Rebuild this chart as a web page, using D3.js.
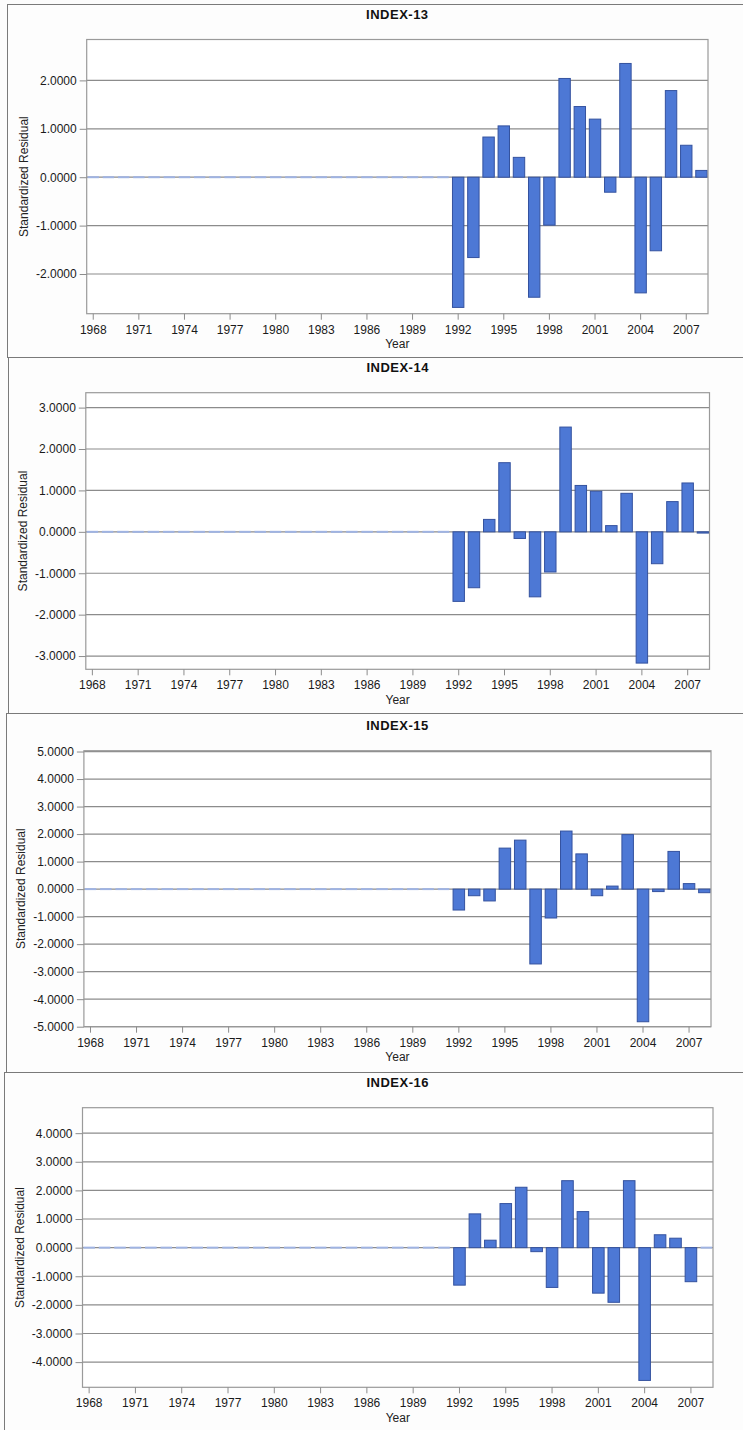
<!DOCTYPE html>
<html>
<head>
<meta charset="utf-8">
<script src="https://cdn.jsdelivr.net/npm/d3@7"></script>
<style>
  html, body { margin: 0; padding: 0; background: #fcfcfc; }
  svg { display: block; }
  text { font-family: "Liberation Sans", Arial, sans-serif; }
</style>
</head>
<body>
<svg id="chart" width="743" height="1430"></svg>
<script>
// Years on the category axis
const years = [1968, 1969, 1970, 1971, 1972, 1973, 1974, 1975, 1976, 1977,
               1978, 1979, 1980, 1981, 1982, 1983, 1984, 1985, 1986, 1987,
               1988, 1989, 1990, 1991, 1992, 1993, 1994, 1995, 1996, 1997,
               1998, 1999, 2000, 2001, 2002, 2003, 2004, 2005, 2006, 2007, 2008];

// Labelled years on the x axis
const xTickYears = [1968, 1971, 1974, 1977, 1980, 1983, 1986, 1989, 1992, 1995, 1998, 2001, 2004, 2007];

const titles = ["INDEX-13", "INDEX-14", "INDEX-15", "INDEX-16"];

// Standardized residuals per year (1968 ... 2008)
const index13 = [0, 0, 0, 0, 0, 0, 0, 0, 0, 0, 0, 0, 0, 0, 0, 0, 0, 0, 0, 0, 0, 0, 0, 0,
                 -2.69, -1.66, 0.83, 1.06, 0.41, -2.48, -0.99, 2.04, 1.46, 1.20, -0.31, 2.35, -2.39, -1.52, 1.79, 0.66, 0.14];
const index14 = [0, 0, 0, 0, 0, 0, 0, 0, 0, 0, 0, 0, 0, 0, 0, 0, 0, 0, 0, 0, 0, 0, 0, 0,
                 -1.68, -1.35, 0.30, 1.67, -0.16, -1.57, -0.97, 2.53, 1.12, 0.98, 0.15, 0.93, -3.17, -0.77, 0.73, 1.18, -0.03];
const index15 = [0, 0, 0, 0, 0, 0, 0, 0, 0, 0, 0, 0, 0, 0, 0, 0, 0, 0, 0, 0, 0, 0, 0, 0,
                 -0.76, -0.24, -0.43, 1.49, 1.78, -2.72, -1.05, 2.11, 1.28, -0.24, 0.11, 1.98, -4.82, -0.09, 1.37, 0.20, -0.13];
const index16 = [0, 0, 0, 0, 0, 0, 0, 0, 0, 0, 0, 0, 0, 0, 0, 0, 0, 0, 0, 0, 0, 0, 0, 0,
                 -1.31, 1.18, 0.26, 1.54, 2.11, -0.14, -1.39, 2.34, 1.26, -1.59, -1.91, 2.34, -4.64, 0.45, 0.33, -1.19, 0];

// Y tick values for each panel
const yTicks13 = [-2, -1, 0, 1, 2];
const yTicks14 = [-3, -2, -1, 0, 1, 2, 3];
const yTicks15 = [-5, -4, -3, -2, -1, 0, 1, 2, 3, 4, 5];
const yTicks16 = [-4, -3, -2, -1, 0, 1, 2, 3, 4];

// Y extents for each panel
const yDomain13 = [-2.82, 2.845];
const yDomain14 = [-3.32, 3.36];
const yDomain15 = [-5.0, 5.03];
const yDomain16 = [-4.88, 4.89];

// Panel layout (outer frame and plot rectangle)
const panels = [
  { title: titles[0], values: index13, ticks: yTicks13, domain: yDomain13,
    frame: { x: 7.5, y: 4.5, bottom: 357.5 }, plot: { x0: 86.7, x1: 708, y0: 39.5, y1: 313.7 } },
  { title: titles[1], values: index14, ticks: yTicks14, domain: yDomain14,
    frame: { x: 8.5, y: 357.5, bottom: 713.5 }, plot: { x0: 85.8, x1: 709.5, y0: 392.7, y1: 669.3 } },
  { title: titles[2], values: index15, ticks: yTicks15, domain: yDomain15,
    frame: { x: 6.5, y: 713.5, bottom: 1072.5 }, plot: { x0: 83.9, x1: 711, y0: 750.7, y1: 1026.7 } },
  { title: titles[3], values: index16, ticks: yTicks16, domain: yDomain16,
    frame: { x: 4.5, y: 1072.5, bottom: 1440 }, plot: { x0: 82.5, x1: 713, y0: 1107.7, y1: 1387.3 } }
];

const fmt = d3.formatLocale({ decimal: ".", thousands: ",", grouping: [3], currency: ["", ""], minus: "-" }).format(".4f");

const svg = d3.select("#chart");

panels.forEach(p => {
  const g = svg.append("g");
  const { x0, x1, y0, y1 } = p.plot;

  // outer frame
  g.append("rect")
    .attr("x", p.frame.x).attr("y", p.frame.y)
    .attr("width", 760 - p.frame.x).attr("height", p.frame.bottom - p.frame.y)
    .attr("fill", "#fdfdfd").attr("stroke", "#7a7a7a").attr("stroke-width", 1);

  const x = d3.scaleBand().domain(years).range([x0, x1]).paddingInner(0.25).paddingOuter(0.055);
  const y = d3.scaleLinear().domain(p.domain).range([y1, y0]);

  // plot background
  g.append("rect").attr("x", x0).attr("y", y0).attr("width", x1 - x0).attr("height", y1 - y0)
    .attr("fill", "#ffffff");

  // horizontal grid lines
  g.append("g").selectAll("line").data(p.ticks).join("line")
    .attr("x1", x0).attr("x2", x1)
    .attr("y1", d => y(d)).attr("y2", d => y(d))
    .attr("stroke", "#8c8c8c").attr("stroke-width", 1.2);

  // bars
  const rows = years.map((yr, i) => ({ year: yr, value: p.values[i] }));
  g.append("g").selectAll("rect").data(rows.filter(d => d.value !== 0)).join("rect")
    .attr("x", d => x(d.year))
    .attr("width", x.bandwidth())
    .attr("y", d => y(Math.max(d.value, 0)))
    .attr("height", d => Math.abs(y(d.value) - y(0)))
    .attr("fill", "#4d78d5")
    .attr("stroke", "#34529f")
    .attr("stroke-width", 1);

  // zero-valued bars appear as flat strokes on the baseline
  g.append("g").selectAll("line").data(rows.filter(d => d.value === 0)).join("line")
    .attr("x1", d => x(d.year)).attr("x2", d => x(d.year) + x.bandwidth())
    .attr("y1", y(0)).attr("y2", y(0))
    .attr("stroke", "#9fb3e2").attr("stroke-width", 2);

  // plot border
  g.append("rect").attr("x", x0).attr("y", y0).attr("width", x1 - x0).attr("height", y1 - y0)
    .attr("fill", "none").attr("stroke", "#9a9a9a").attr("stroke-width", 1.2);

  // y axis
  const ya = g.append("g").attr("transform", `translate(${x0},0)`)
    .call(d3.axisLeft(y).tickValues(p.ticks).tickFormat(fmt).tickSize(7).tickPadding(3));
  ya.select(".domain").remove();
  ya.selectAll(".tick line").attr("stroke", "#8c8c8c");
  ya.selectAll(".tick text").attr("fill", "#1a1a1a").style("font-size", "12px")
    .style("font-family", '"Liberation Sans", Arial, sans-serif');

  // x axis
  const xa = g.append("g").attr("transform", `translate(0,${y1})`)
    .call(d3.axisBottom(x).tickValues(xTickYears).tickSize(6).tickPadding(5.5));
  xa.select(".domain").remove();
  xa.selectAll(".tick line").attr("stroke", "#8c8c8c");
  xa.selectAll(".tick text").attr("fill", "#1a1a1a").style("font-size", "12px")
    .style("font-family", '"Liberation Sans", Arial, sans-serif');

  // title
  g.append("text")
    .attr("x", (x0 + x1) / 2).attr("y", y0 - 20.5)
    .attr("text-anchor", "middle")
    .style("font-size", "13px").style("font-weight", "bold").style("letter-spacing", "0.5px")
    .attr("fill", "#111")
    .text(p.title);

  // axis titles
  g.append("text")
    .attr("x", (x0 + x1) / 2).attr("y", y1 + 34.5)
    .attr("text-anchor", "middle")
    .style("font-size", "12px").attr("fill", "#222")
    .text("Year");

  g.append("text")
    .attr("transform", `translate(${x0 - 58.5},${(y0 + y1) / 2}) rotate(-90)`)
    .attr("text-anchor", "middle")
    .style("font-size", "12px").attr("fill", "#222")
    .text("Standardized Residual");
});
</script>
</body>
</html>
